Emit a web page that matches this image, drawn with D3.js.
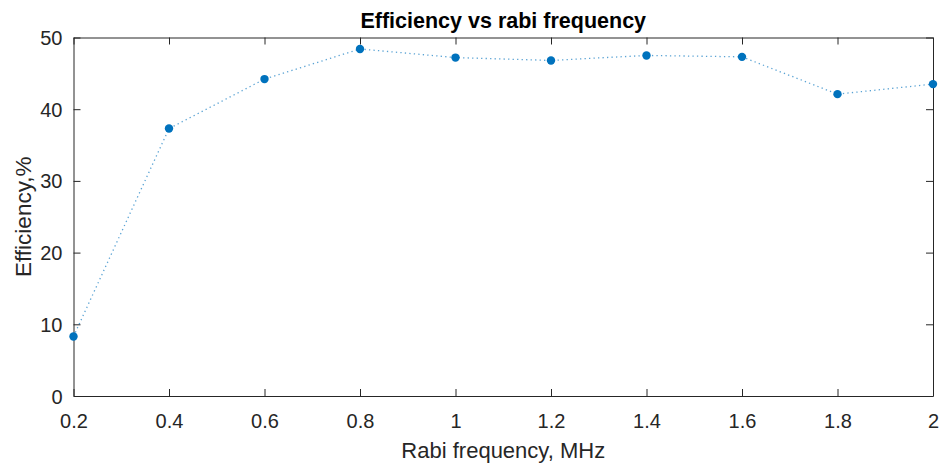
<!DOCTYPE html>
<html>
<head>
<meta charset="utf-8">
<script src="https://cdn.jsdelivr.net/npm/d3@7"></script>
<style>
  html, body { margin: 0; padding: 0; background: #fff; }
  svg { display: block; font-family: "Liberation Sans", Arial, Helvetica, sans-serif; }
</style>
</head>
<body>
<svg id="chart" width="943" height="463"></svg>
<script>
// Measured efficiency at each Rabi frequency
const rabiFreq = [0.2, 0.4, 0.6, 0.8, 1.0, 1.2, 1.4, 1.6, 1.8, 2.0];
const efficiency = [8.3, 37.3, 44.2, 48.4, 47.2, 46.8, 47.5, 47.3, 42.1, 43.5];
const xTicks = [0.2, 0.4, 0.6, 0.8, 1.0, 1.2, 1.4, 1.6, 1.8, 2.0];
const yTicks = [0, 10, 20, 30, 40, 50];

const svg = d3.select("#chart");
const W = 943, H = 463;
const margin = { left: 73.5, right: W - 933, top: 37.5, bottom: H - 396 };
const innerW = W - margin.left - margin.right;
const innerH = H - margin.top - margin.bottom;

const x = d3.scaleLinear().domain([0.2, 2.0]).range([margin.left, margin.left + innerW]);
const y = d3.scaleLinear().domain([0, 50]).range([margin.top + innerH, margin.top]);

const axisColor = "#262626";
const tickLen = 7;
const fmt = d => (d === 2 ? "2" : d === 1 ? "1" : d3.format(".1f")(d));

// Bottom axis with inward ticks
const gx = svg.append("g")
  .attr("transform", `translate(0,${y(0)})`)
  .call(d3.axisBottom(x).tickValues(xTicks).tickFormat(fmt).tickSizeInner(-tickLen).tickSizeOuter(0).tickPadding(18));
// Left axis with inward ticks
const gy = svg.append("g")
  .attr("transform", `translate(${x(0.2)},0)`)
  .call(d3.axisLeft(y).tickValues(yTicks).tickSizeInner(-tickLen).tickSizeOuter(0).tickPadding(11));
// Top and right box edges with matching ticks
const gt = svg.append("g")
  .attr("transform", `translate(0,${y(50)})`)
  .call(d3.axisTop(x).tickValues(xTicks).tickFormat("").tickSizeInner(-tickLen).tickSizeOuter(0));
const gr = svg.append("g")
  .attr("transform", `translate(${x(2.0)},0)`)
  .call(d3.axisRight(y).tickValues(yTicks).tickFormat("").tickSizeInner(-tickLen).tickSizeOuter(0));

[gx, gy, gt, gr].forEach(g => {
  g.selectAll(".domain").attr("stroke", axisColor).attr("stroke-width", 1);
  g.selectAll(".tick line").attr("stroke", axisColor).attr("stroke-width", 1);
  g.selectAll(".tick text").attr("fill", axisColor).attr("font-size", 20)
    .attr("font-family", "'Liberation Sans', Arial, Helvetica, sans-serif");
});
gy.selectAll(".tick text").attr("dy", "0.35em");

// Dotted connecting line
const line = d3.line().x((d, i) => x(rabiFreq[i])).y(d => y(d));
svg.append("path")
  .datum(efficiency)
  .attr("fill", "none")
  .attr("stroke", "#0072BD")
  .attr("stroke-opacity", 0.65)
  .attr("stroke-width", 1.3)
  .attr("stroke-dasharray", "1.3,3.2")
  .attr("d", line);

// Markers
svg.append("g").selectAll("circle")
  .data(efficiency)
  .join("circle")
  .attr("cx", (d, i) => x(rabiFreq[i]))
  .attr("cy", d => y(d))
  .attr("r", 4.2)
  .attr("fill", "#0072BD");

// Title and axis labels
svg.append("text")
  .attr("x", (x(0.2) + x(2.0)) / 2)
  .attr("y", 27.5)
  .attr("text-anchor", "middle")
  .attr("font-size", 21.5)
  .attr("font-weight", "bold")
  .attr("fill", "#000")
  .text("Efficiency vs rabi frequency");

svg.append("text")
  .attr("x", (x(0.2) + x(2.0)) / 2)
  .attr("y", 457.5)
  .attr("text-anchor", "middle")
  .attr("font-size", 22)
  .attr("fill", axisColor)
  .text("Rabi frequency, MHz");

svg.append("text")
  .attr("transform", `translate(31,${(y(0) + y(50)) / 2}) rotate(-90)`)
  .attr("text-anchor", "middle")
  .attr("font-size", 22.5)
  .attr("fill", axisColor)
  .text("Efficiency,%");
</script>
</body>
</html>
